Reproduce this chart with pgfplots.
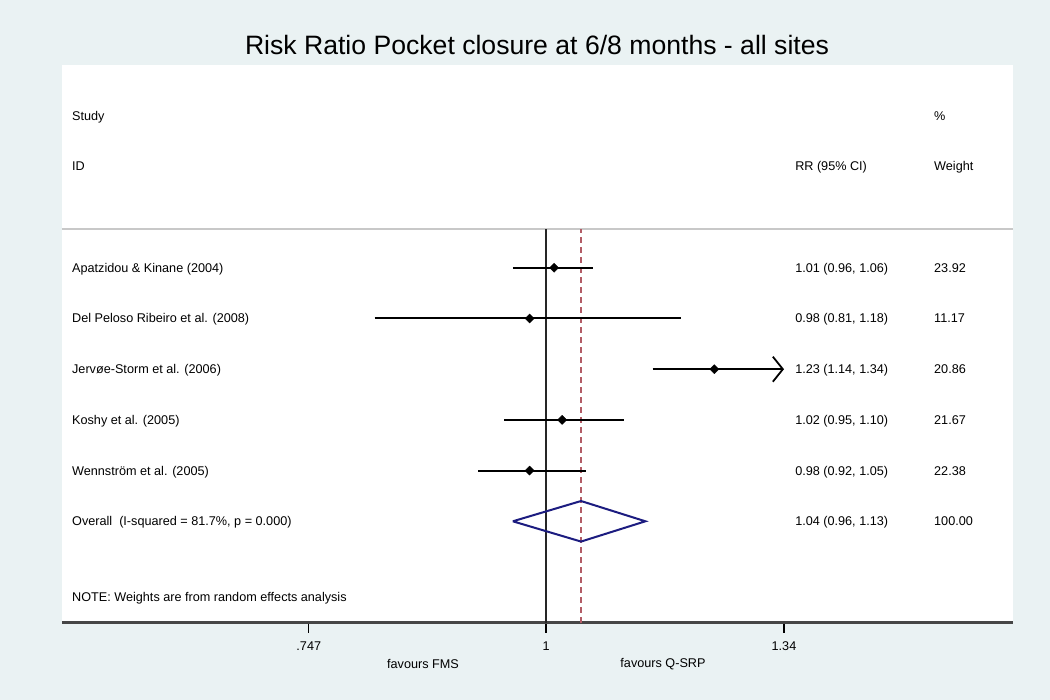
\documentclass[border=0pt]{standalone}
\usepackage{fontspec}
\setmainfont{Liberation Sans}
\usepackage{pgfplots}
\pgfplotsset{compat=1.18}
\usetikzlibrary{arrows.meta}

\definecolor{bgblue}{RGB}{234,242,243}
\definecolor{diamondnavy}{RGB}{28,28,128}
\definecolor{refmaroon}{RGB}{178,92,102}
\definecolor{rulegray}{RGB}{200,200,200}
\definecolor{axisgray}{RGB}{70,70,70}

\newcommand\lab{\fontsize{12.7}{15}\selectfont}
\tikzset{cell/.style={anchor=base west, inner sep=0pt, yshift=-4.5bp, font=\lab}}

\begin{document}
\begin{tikzpicture}[x=1bp,y=1bp]
% graph region and plot region
\fill[bgblue] (0,0) rectangle (1050,700);
\fill[white] (62,77.3) rectangle (1012.7,635);
\node[font=\fontsize{26.7}{32}\selectfont] at (537,655) {Risk Ratio Pocket closure at 6/8 months - all sites};

\begin{axis}[
  at={(62bp,77.3bp)}, anchor=south west,
  scale only axis, width=950.7bp, height=557.7bp,
  xmode=log, xmin=0.5514, xmax=1.7754,
  ymin=0, ymax=11,
  axis x line=bottom, axis y line=none,
  x axis line style={-, draw=axisgray, line width=2.6bp},
  xtick={0.747,1,1.34}, xticklabels={.747,1,1.34},
  xminorticks=false,
  tick align=outside, major tick length=10bp,
  tick style={black, line width=1.2bp},
  typeset ticklabels with strut,
  xticklabel style={font=\lab, /pgf/number format/assume math mode=true, yshift=-3.5bp},
  clip=false,
]
% header rule and reference lines
\draw[rulegray, line width=2bp] (rel axis cs:0,0.7055) -- (rel axis cs:1,0.7055);
\draw[black!85, line width=1.3bp] (axis cs:1,0) -- (axis cs:1,7.76);
\draw[refmaroon, line width=1.3bp, dash pattern=on 6bp off 4bp] (axis cs:1.044,0) -- (axis cs:1.044,7.76);

% confidence intervals
\addplot[black, line width=2bp] coordinates {(0.96,7) (1.06,7)};
\addplot[black, line width=2bp] coordinates {(0.81,6) (1.18,6)};
\addplot[black, line width=2bp, -{Straight Barb[length=10bp,width=25bp,line width=1.8bp]}] coordinates {(1.14,5) (1.34,5)};
\addplot[black, line width=2bp] coordinates {(0.95,4) (1.10,4)};
\addplot[black, line width=2bp] coordinates {(0.92,3) (1.05,3)};

% point estimates
\addplot[only marks, mark=square*, mark size=3.2bp, mark options={rotate=45}, black] coordinates {
  (1.01,7) (0.98,6) (1.23,5) (1.02,4) (0.98,3)
};

% pooled estimate
\addplot[diamondnavy, line width=2bp, line join=miter] coordinates {
  (0.96,2) (1.044,2.4) (1.13,2) (1.044,1.6) (0.96,2)
};

% study column
\node[cell] at (axis cs:0.5582,10) {Study};
\node[cell] at (axis cs:0.5582,9) {ID};
\node[cell] at (axis cs:0.5582,7) {Apatzidou \& Kinane (2004)};
\node[cell] at (axis cs:0.5582,6) {Del Peloso Ribeiro et al. (2008)};
\node[cell] at (axis cs:0.5582,5) {Jervøe-Storm et al. (2006)};
\node[cell] at (axis cs:0.5582,4) {Koshy et al. (2005)};
\node[cell] at (axis cs:0.5582,3) {Wennström et al. (2005)};
\node[cell] at (axis cs:0.5582,2) {Overall\ \ (I-squared = 81.7\%, p = 0.000)};
\node[cell] at (axis cs:0.5582,0.5) {NOTE: Weights are from random effects analysis};

% effect column
\node[cell] at (axis cs:1.3584,9) {RR (95\% CI)};
\node[cell] at (axis cs:1.3584,7) {1.01 (0.96, 1.06)};
\node[cell] at (axis cs:1.3584,6) {0.98 (0.81, 1.18)};
\node[cell] at (axis cs:1.3584,5) {1.23 (1.14, 1.34)};
\node[cell] at (axis cs:1.3584,4) {1.02 (0.95, 1.10)};
\node[cell] at (axis cs:1.3584,3) {0.98 (0.92, 1.05)};
\node[cell] at (axis cs:1.3584,2) {1.04 (0.96, 1.13)};

% weight column
\node[cell] at (axis cs:1.6116,10) {\%};
\node[cell] at (axis cs:1.6116,9) {Weight};
\node[cell] at (axis cs:1.6116,7) {23.92};
\node[cell] at (axis cs:1.6116,6) {11.17};
\node[cell] at (axis cs:1.6116,5) {20.86};
\node[cell] at (axis cs:1.6116,4) {21.67};
\node[cell] at (axis cs:1.6116,3) {22.38};
\node[cell] at (axis cs:1.6116,2) {100.00};
\end{axis}

\node[font=\lab] at (423,36) {favours FMS};
\node[font=\lab] at (663,36) {favours Q-SRP};
\end{tikzpicture}
\end{document}
